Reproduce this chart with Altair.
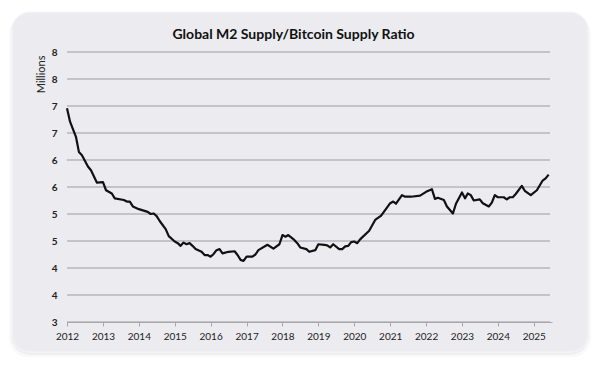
import altair as alt
import pandas as pd

# Monthly readings of the Global M2 / Bitcoin supply ratio (millions)
dates = [
    "2012-01", "2012-02", "2012-04", "2012-05", "2012-06", "2012-08", "2012-09", "2012-11",
    "2013-01", "2013-02", "2013-04", "2013-05", "2013-08", "2013-09", "2013-10", "2013-11",
    "2014-01", "2014-04", "2014-05", "2014-06", "2014-07", "2014-08", "2014-10", "2014-11",
    "2015-01", "2015-02", "2015-03", "2015-04", "2015-05", "2015-06", "2015-07", "2015-08",
    "2015-10", "2015-11", "2015-12", "2016-01", "2016-02", "2016-03", "2016-04", "2016-05",
    "2016-07", "2016-09", "2016-10", "2016-11", "2016-12", "2017-01", "2017-03", "2017-04",
    "2017-05", "2017-08", "2017-10", "2017-12", "2018-01", "2018-02", "2018-03", "2018-05",
    "2018-06", "2018-07", "2018-09", "2018-10", "2018-12", "2019-01", "2019-03", "2019-04",
    "2019-05", "2019-06", "2019-08", "2019-09", "2019-10", "2019-11", "2019-12", "2020-01",
    "2020-02", "2020-03", "2020-06", "2020-08", "2020-10", "2021-01", "2021-02", "2021-03",
    "2021-05", "2021-06", "2021-08", "2021-11", "2022-01", "2022-03", "2022-04", "2022-05",
    "2022-07", "2022-08", "2022-10", "2022-11", "2023-01", "2023-02", "2023-03", "2023-04",
    "2023-05", "2023-07", "2023-08", "2023-10", "2023-11", "2023-12", "2024-01", "2024-03",
    "2024-04", "2024-05", "2024-06", "2024-07", "2024-09", "2024-10", "2024-12", "2025-02",
    "2025-04", "2025-05", "2025-06",
]
values = [
    6.96, 6.71, 6.43, 6.15, 6.09, 5.88, 5.81, 5.58,
    5.59, 5.44, 5.38, 5.29, 5.26, 5.23, 5.23, 5.14,
    5.09, 5.04, 5.00, 5.01, 4.96, 4.87, 4.72, 4.59,
    4.49, 4.46, 4.41, 4.47, 4.44, 4.46, 4.41, 4.35,
    4.30, 4.24, 4.24, 4.21, 4.26, 4.33, 4.35, 4.27,
    4.30, 4.31, 4.24, 4.15, 4.13, 4.21, 4.21, 4.25,
    4.33, 4.43, 4.36, 4.44, 4.61, 4.58, 4.61, 4.52,
    4.46, 4.38, 4.35, 4.30, 4.33, 4.44, 4.43, 4.42,
    4.38, 4.44, 4.35, 4.35, 4.40, 4.41, 4.48, 4.49,
    4.46, 4.53, 4.69, 4.89, 4.97, 5.20, 5.23, 5.19,
    5.35, 5.32, 5.32, 5.34, 5.41, 5.46, 5.28, 5.30,
    5.26, 5.14, 5.01, 5.19, 5.40, 5.29, 5.38, 5.35,
    5.25, 5.27, 5.20, 5.14, 5.21, 5.35, 5.31, 5.31,
    5.27, 5.31, 5.31, 5.37, 5.52, 5.43, 5.35, 5.44,
    5.62, 5.66, 5.73,
]
y_ticks = [3, 3.5, 4, 4.5, 5, 5.5, 6, 6.5, 7, 7.5, 8]
title_text = "Global M2 Supply/Bitcoin Supply Ratio"
y_title = "Millions"

df = pd.DataFrame({"date": [d + "-01" for d in dates], "value": values})
grid_df = pd.DataFrame({"g": y_ticks})
one = pd.DataFrame({"a": [0]})

FONT = "Lato"
CARD = "#ebebf0"

x_scale = alt.Scale(
    type="utc",
    domain=[alt.DateTime(year=2012, month=1, date=1, utc=True),
            alt.DateTime(year=2025, month=7, date=5, utc=True)],
    nice=False,
)
y_scale = alt.Scale(domain=[3, 8], nice=False, zero=False)

y_axis = alt.Axis(values=y_ticks, format=".0f", grid=False, domain=False,
                  ticks=False, labelOverlap=False, labelFont=FONT, labelFontSize=10,
                  labelFontWeight="bold", labelColor="#222222", labelPadding=10,
                  titleFont=FONT, titleFontSize=11, titleFontWeight="normal",
                  titleColor="#222222", titleAnchor="end", titleAngle=-90,
                  titleAlign="right", titleBaseline="middle",
                  titleX=-26, titleY=3, zindex=1)

shadow2 = alt.Chart(one).mark_rect(fill="#000000", opacity=0.025, cornerRadius=20).encode(
    x=alt.value(-58), x2=alt.value(524), y=alt.value(-38), y2=alt.value(306))
shadow1 = alt.Chart(one).mark_rect(fill="#000000", opacity=0.04, cornerRadius=19).encode(
    x=alt.value(-56), x2=alt.value(522), y=alt.value(-39), y2=alt.value(303))
card = alt.Chart(one).mark_rect(fill=CARD, cornerRadius=18, stroke="#f6f6f9", strokeWidth=1).encode(
    x=alt.value(-55), x2=alt.value(521), y=alt.value(-40), y2=alt.value(300))

grid = alt.Chart(grid_df).mark_rule(color="#b6b6be", strokeWidth=1.4).encode(
    y=alt.Y("g:Q", scale=y_scale, title=y_title, axis=y_axis),
    x=alt.value(0), x2=alt.value(483),
)

line = alt.Chart(df).mark_line(color="#111111", strokeWidth=2.2, strokeJoin="round").encode(
    x=alt.X("date:T", scale=x_scale, title=None,
            axis=alt.Axis(tickCount={"interval": "year", "step": 1}, format="%Y",
                          grid=False, domainColor="#a8a8b0", domainWidth=1.2,
                          tickColor="#a8a8b0", tickSize=4, labelFont=FONT,
                          labelFontSize=10, labelColor="#222222", labelPadding=5,
                          labelFlush=False, zindex=1)),
    y=alt.Y("value:Q", scale=y_scale, title=y_title, axis=y_axis),
)

chart = alt.layer(shadow2, shadow1, card, grid, line).properties(
    width=485,
    height=270,
    title=alt.TitleParams(title_text, font=FONT, fontSize=14, fontWeight="bold",
                          color="#111111", anchor="middle", frame="group", dx=-16,
                          offset=12, dy=42),
    padding={"left": 59, "top": 44, "right": 40, "bottom": 35},
    autosize=alt.AutoSizeParams(type="none"),
).configure(background="white").configure_view(stroke=None)

chart.save("out.html", embed_options={"renderer": "svg", "actions": False})
